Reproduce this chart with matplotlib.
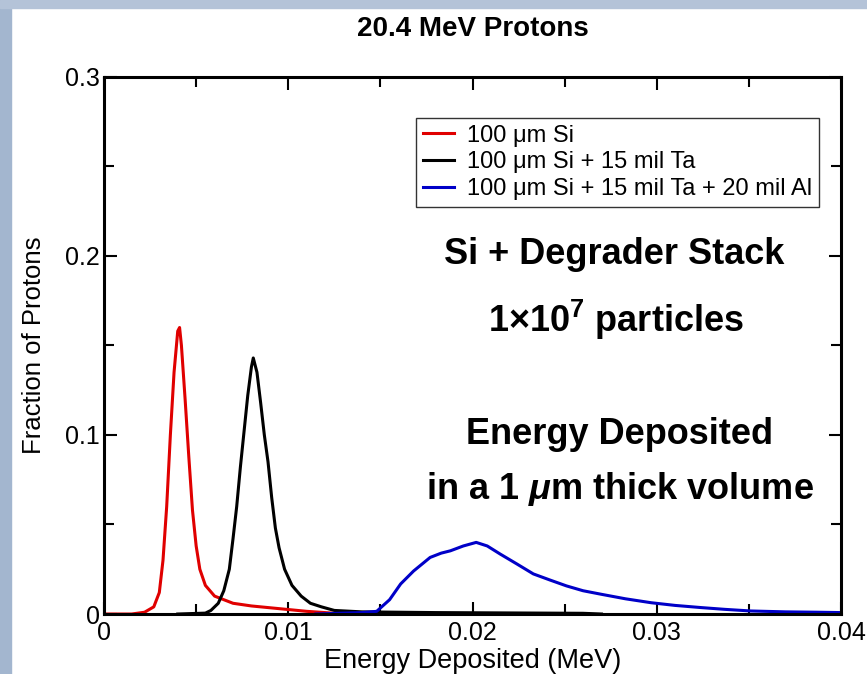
import matplotlib
matplotlib.use("Agg")
import matplotlib.pyplot as plt
from matplotlib import patches

plt.rcParams['font.family'] = ['Liberation Sans', 'DejaVu Sans']
plt.rcParams['mathtext.fontset'] = 'custom'
plt.rcParams['mathtext.it'] = 'Liberation Sans:italic:bold'
plt.rcParams['mathtext.rm'] = 'Liberation Sans:bold'

# 100 um Si
si_x = [0.0000, 0.0015, 0.0022, 0.0027, 0.0030, 0.0032, 0.0034, 0.0036, 0.0038,
        0.0040, 0.0041, 0.0042, 0.0044, 0.0046, 0.0048, 0.0050, 0.0052, 0.0055,
        0.0060, 0.0070, 0.0080, 0.0090, 0.0100, 0.0110, 0.0120, 0.0130]
si_y = [0.0, 0.0, 0.001, 0.004, 0.012, 0.030, 0.060, 0.100, 0.135,
        0.158, 0.160, 0.150, 0.120, 0.088, 0.058, 0.038, 0.025, 0.016,
        0.010, 0.006, 0.0045, 0.0035, 0.0025, 0.0015, 0.0008, 0.0]

# 100 um Si + 15 mil Ta
ta_x = [0.0040, 0.0055, 0.0058, 0.0062, 0.0065, 0.0068, 0.0070, 0.0072, 0.0074,
        0.0076, 0.0078, 0.0080, 0.0081, 0.0083, 0.0085, 0.0087, 0.0089, 0.0091,
        0.0093, 0.0095, 0.0098, 0.0102, 0.0107, 0.0112, 0.0118, 0.0125, 0.0140,
        0.0180, 0.0220, 0.0260, 0.0270]
ta_y = [0.0, 0.0005, 0.002, 0.006, 0.013, 0.025, 0.042, 0.060, 0.082,
        0.102, 0.122, 0.138, 0.143, 0.135, 0.118, 0.100, 0.085, 0.065,
        0.048, 0.037, 0.025, 0.016, 0.010, 0.006, 0.004, 0.002, 0.0012,
        0.0008, 0.0006, 0.0004, 0.0]

# 100 um Si + 15 mil Ta + 20 mil Al
al_x = [0.0115, 0.0130, 0.0140, 0.0148, 0.0155, 0.0161, 0.0168, 0.0177, 0.0183,
        0.0188, 0.0195, 0.0202, 0.0208, 0.0215, 0.0224, 0.0233, 0.0242, 0.0251,
        0.0260, 0.0270, 0.0283, 0.0297, 0.0310, 0.0324, 0.0337, 0.0351, 0.0370,
        0.0387, 0.0400]
al_y = [0.0, 0.0005, 0.0008, 0.0015, 0.008, 0.0168, 0.024, 0.0316, 0.034,
        0.0353, 0.038, 0.040, 0.038, 0.0335, 0.028, 0.0224, 0.019, 0.0157,
        0.013, 0.011, 0.0085, 0.0063, 0.0048, 0.0036, 0.0026, 0.0017, 0.0012,
        0.0010, 0.0008]

labels = ["100 \u03bcm Si", "100 \u03bcm Si + 15 mil Ta", "100 \u03bcm Si + 15 mil Ta + 20 mil Al"]

x_ticks = [0, 0.01, 0.02, 0.03, 0.04]
x_ticklabels = ["0", "0.01", "0.02", "0.03", "0.04"]
x_minor = [0.005, 0.015, 0.025, 0.035]
y_ticks = [0, 0.1, 0.2, 0.3]
y_ticklabels = ["0", "0.1", "0.2", "0.3"]
y_minor = [0.05, 0.15, 0.25]

fig = plt.figure(figsize=(8.67, 6.74), dpi=100)

# slide frame
fig.patches.append(patches.Rectangle((0, 0), 0.013, 1, transform=fig.transFigure, color="#a3b6cf", zorder=0))
fig.patches.append(patches.Rectangle((0, 0.988), 1, 0.012, transform=fig.transFigure, color="#b4c3d8", zorder=0))

ax = fig.add_axes([0.12, 0.089, 0.850, 0.797])

ax.plot(si_x, si_y, color="#e00000", lw=2.2, label=labels[0])
ax.plot(ta_x, ta_y, color="black", lw=2.2, label=labels[1])
ax.plot(al_x, al_y, color="#0000c8", lw=2.2, label=labels[2])

ax.set_xlim(0, 0.04)
ax.set_ylim(0, 0.3)
ax.set_xticks(x_ticks)
ax.set_xticklabels(x_ticklabels)
ax.set_xticks(x_minor, minor=True)
ax.set_yticks(y_ticks)
ax.set_yticklabels(y_ticklabels)
ax.set_yticks(y_minor, minor=True)
ax.tick_params(which="both", direction="in", top=True, right=True, width=1.5, labelsize=18)
ax.tick_params(which="major", length=9)
ax.tick_params(which="minor", length=7)
ax.tick_params(axis="x", pad=5)
ax.tick_params(axis="y", pad=3)
for s in ax.spines.values():
    s.set_linewidth(2.2)

ax.set_xlabel("Energy Deposited (MeV)", fontsize=19.5, labelpad=2)
ax.set_ylabel("Fraction of Protons", fontsize=18.5, labelpad=14)
fig.text(0.545, 0.957, "20.4 MeV Protons", ha="center", va="center", fontsize=20, fontweight="bold")

leg = ax.legend(loc="upper right", bbox_to_anchor=(0.970, 0.924), fontsize=17, frameon=True,
                fancybox=False, handlelength=1.3, handletextpad=0.55, borderpad=0.3, labelspacing=0.2,
                borderaxespad=0)
leg.get_frame().set_edgecolor("black")
leg.get_frame().set_linewidth(1.0)

ax.text(0.692, 0.670, "Si + Degrader Stack", transform=ax.transAxes, ha="center", va="center", fontsize=26, fontweight="bold")
ax.text(0.695, 0.548, r"1$\times$10$^{7}$ particles", transform=ax.transAxes, ha="center", va="center", fontsize=26, fontweight="bold")
ax.text(0.700, 0.335, "Energy Deposited", transform=ax.transAxes, ha="center", va="center", fontsize=26, fontweight="bold")
ax.text(0.700, 0.233, r"in a 1 $\mathit{\mu}$m thick volume", transform=ax.transAxes, ha="center", va="center", fontsize=26, fontweight="bold")

fig.savefig("out.png", dpi=100)
